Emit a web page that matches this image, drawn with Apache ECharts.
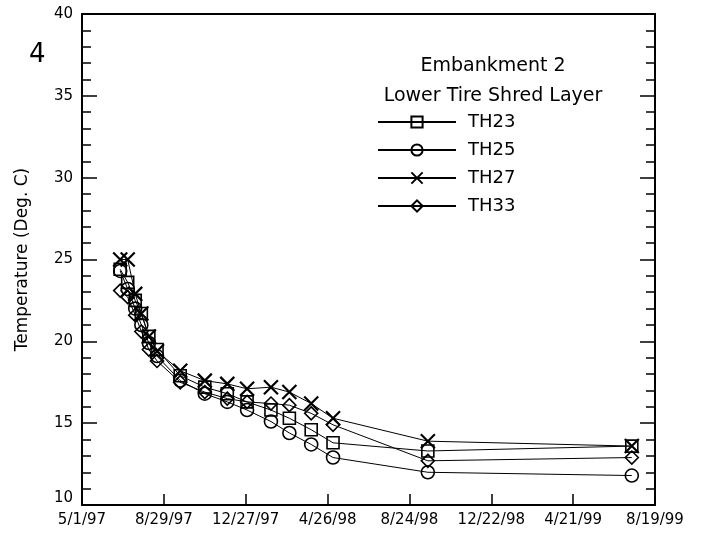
<!DOCTYPE html>
<html>
<head>
<meta charset="utf-8">
<script src="https://cdn.jsdelivr.net/npm/echarts@6/dist/echarts.min.js"></script>
<style>html,body{margin:0;padding:0;background:#fff;}#c{width:701px;height:537px;}</style>
</head>
<body>
<div id="c"></div>
<script>
// ---- data ----
const dates = ['1997-06-26','1997-07-07','1997-07-18','1997-07-27','1997-08-07','1997-08-19','1997-09-22','1997-10-28','1997-11-30','1997-12-29','1998-02-02','1998-03-01','1998-04-02','1998-05-04','1998-09-20','1999-07-16'];
const th23 = [24.4, 23.6, 22.5, 21.7, 20.3, 19.5, 17.9, 17.2, 16.8, 16.3, 15.8, 15.3, 14.6, 13.8, 13.3, 13.6];
const th25 = [24.3, 23.2, 22.0, 21.0, 19.9, 19.1, 17.6, 16.8, 16.3, 15.8, 15.1, 14.4, 13.7, 12.9, 12.0, 11.8];
const th27 = [25.0, 25.0, 22.9, 21.7, 20.3, 19.4, 18.2, 17.6, 17.4, 17.1, 17.2, 16.9, 16.2, 15.3, 13.9, 13.6];
const th33 = [23.1, 22.7, 21.6, 20.6, 19.5, 18.8, 17.5, 16.9, 16.5, 16.3, 16.2, 16.1, 15.6, 14.9, 12.7, 12.9];
const seriesNames = ['TH23', 'TH25', 'TH27', 'TH33'];
const xStart = '1997-05-01';
const xTickDays = 120;
const xTickCount = 7;
const yMin = 10, yMax = 40, yStep = 5;
const titleLines = ['Embankment 2', 'Lower Tire Shred Layer'];
const yName = 'Temperature (Deg. C)';
const panelLabel = '4';

// ---- helpers ----
const DAY = 86400000;
const t0 = Date.parse(xStart + 'T00:00:00Z');
const dayOf = s => Math.round((Date.parse(s + 'T00:00:00Z') - t0) / DAY);
const fmt = v => { const d = new Date(t0 + v * DAY); return (d.getUTCMonth() + 1) + '/' + d.getUTCDate() + '/' + String(d.getUTCFullYear()).slice(2); };
const xs = dates.map(dayOf);
const pairs = arr => arr.map((v, i) => [xs[i], v]);

const FONT = 'DejaVu Sans';
const axisCommon = {
  axisLine: { show: true, onZero: false, lineStyle: { color: '#000', width: 2 } },
  splitLine: { show: false }
};
const symbols = ['rect', 'circle', 'path://M0,0L10,10M10,0L0,10', 'diamond'];
const sizes = [12, 13, 14, 13];
const allData = [th23, th25, th27, th33];

const chart = echarts.init(document.getElementById('c'), null, { renderer: 'canvas' });
chart.setOption({
  animation: false,
  backgroundColor: '#fff',
  textStyle: { fontFamily: FONT },
  grid: { left: 82, right: 46, top: 14, bottom: 32, containLabel: false },
  title: {
    text: titleLines.join('\n'),
    left: 493, top: 51, padding: 0, textAlign: 'center',
    textStyle: { fontFamily: FONT, fontSize: 19, fontWeight: 'normal', color: '#000', lineHeight: 30 }
  },
  legend: {
    orient: 'vertical', left: 377, top: 113, padding: 0,
    itemWidth: 78, itemHeight: 14, itemGap: 10,
    textStyle: { fontFamily: FONT, fontSize: 18, color: '#000', padding: [0, 0, 0, 7] },
    data: seriesNames
  },
  graphic: [{ type: 'text', left: 29, top: 42, style: { text: panelLabel, fontSize: 26, fontFamily: FONT, fill: '#000' } }],
  xAxis: [
    Object.assign({}, axisCommon, {
      type: 'value', position: 'bottom', min: 0, max: xTickDays * xTickCount, interval: xTickDays,
      axisTick: { show: true, inside: true, length: 11, lineStyle: { color: '#000', width: 1.5 } },
      axisLabel: { color: '#000', fontSize: 15, fontFamily: FONT, margin: 8, formatter: fmt, showMinLabel: true, showMaxLabel: true }
    }),
    Object.assign({}, axisCommon, {
      type: 'value', position: 'top', min: 0, max: xTickDays * xTickCount, interval: xTickDays,
      axisTick: { show: false }, axisLabel: { show: false }
    })
  ],
  yAxis: [
    Object.assign({}, axisCommon, {
      type: 'value', position: 'left', min: yMin, max: yMax, interval: yStep,
      name: yName, nameLocation: 'middle', nameGap: 51,
      nameTextStyle: { color: '#000', fontSize: 17, fontFamily: FONT },
      axisTick: { show: true, inside: true, length: 15, lineStyle: { color: '#000', width: 1.5 } },
      minorTick: { show: true, splitNumber: 5, length: 9, lineStyle: { color: '#000', width: 1.5 } },
      axisLabel: {
        color: '#000', fontSize: 15, fontFamily: FONT, margin: 9,
        formatter: v => v === yMin ? '{low|' + v + '}' : String(v),
        rich: { low: { fontSize: 15, fontFamily: FONT, color: '#000', padding: [0, 0, 14, 0] } }
      }
    }),
    Object.assign({}, axisCommon, {
      type: 'value', position: 'right', min: yMin, max: yMax, interval: yStep,
      axisTick: { show: true, inside: true, length: 15, lineStyle: { color: '#000', width: 1.5 } },
      minorTick: { show: true, splitNumber: 5, length: 9, lineStyle: { color: '#000', width: 1.5 } },
      axisLabel: { show: false }
    })
  ],
  series: seriesNames.map((n, i) => ({
    name: n, type: 'line', xAxisIndex: 0, yAxisIndex: 0,
    data: pairs(allData[i]),
    symbol: symbols[i], symbolSize: sizes[i], showAllSymbol: true,
    itemStyle: { color: 'rgba(255,255,255,0)', borderColor: '#000', borderWidth: i === 2 ? 2.2 : 1.6 },
    lineStyle: { color: '#000', width: 1 },
    emphasis: { disabled: true }
  }))
});
</script>
</body>
</html>
